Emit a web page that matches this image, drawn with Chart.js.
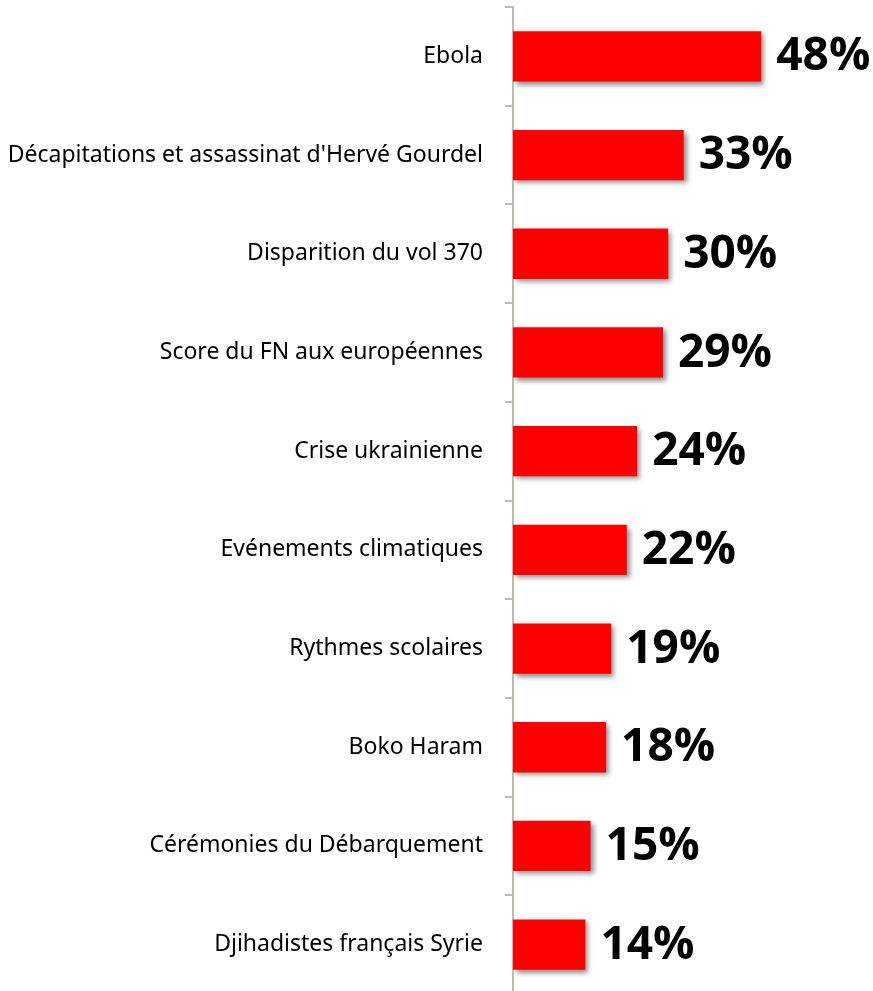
<!DOCTYPE html>
<html>
<head>
<meta charset="utf-8">
<script src="https://cdn.jsdelivr.net/npm/chart.js@4"></script>
<style>
  html, body { margin: 0; padding: 0; background: #fff; overflow: hidden; }
  #wrap { width: 873px; height: 1000px; }
</style>
</head>
<body>
<div id="wrap"><canvas id="chart" width="873" height="1000"></canvas></div>
<script>
// Categories and values
const categories = [
  'Ebola',
  "Décapitations et assassinat d'Hervé Gourdel",
  'Disparition du vol 370',
  'Score du FN aux européennes',
  'Crise ukrainienne',
  'Evénements climatiques',
  'Rythmes scolaires',
  'Boko Haram',
  'Cérémonies du Débarquement',
  'Djihadistes français Syrie'
];
const percents = [48, 33, 30, 29, 24, 22, 19, 18, 15, 14];

// Drop shadow under the bars
const barShadow = {
  id: 'barShadow',
  beforeDatasetsDraw(chart) {
    const ctx = chart.ctx;
    ctx.save();
    ctx.shadowColor = 'rgba(0,0,0,0.45)';
    ctx.shadowBlur = 5;
    ctx.shadowOffsetX = 3;
    ctx.shadowOffsetY = 3;
  },
  afterDatasetsDraw(chart) {
    chart.ctx.restore();
  }
};

// Big bold value labels at the end of each bar
const valueLabels = {
  id: 'valueLabels',
  afterDatasetsDraw(chart) {
    const ctx = chart.ctx;
    const meta = chart.getDatasetMeta(0);
    ctx.save();
    ctx.font = 'bold 46px "Open Sans"';
    ctx.fillStyle = '#000';
    ctx.textAlign = 'left';
    ctx.textBaseline = 'middle';
    meta.data.forEach((bar, i) => {
      ctx.fillText(percents[i] + '%', bar.x + 15, bar.y + 1);
    });
    ctx.restore();
  }
};

new Chart(document.getElementById('chart'), {
  type: 'bar',
  data: {
    labels: categories,
    datasets: [{
      data: percents,
      backgroundColor: '#ff0000',
      borderWidth: 0,
      categoryPercentage: 1,
      barPercentage: 0.51
    }]
  },
  options: {
    indexAxis: 'y',
    responsive: false,
    animation: false,
    layout: { padding: { top: 7, bottom: 6, right: 0, left: 0 } },
    plugins: {
      legend: { display: false },
      tooltip: { enabled: false }
    },
    scales: {
      x: { display: false, min: 0, max: 69.6 },
      y: {
        offset: true,
        afterFit(scale) {
          // keep the axis where the original has it, no extra top/bottom room
          scale.width = 513;
          scale.paddingTop = 0;
          scale.paddingBottom = 0;
        },
        grid: {
          offset: true,
          drawOnChartArea: false,
          tickLength: 8,
          color: '#bfbbb2',
          lineWidth: 2
        },
        border: { color: '#bfbbb2', width: 2 },
        ticks: {
          color: '#000',
          padding: 22,
          font: { family: '"Noto Sans"', size: 23 }
        }
      }
    }
  },
  plugins: [barShadow, valueLabels]
});
</script>
</body>
</html>
